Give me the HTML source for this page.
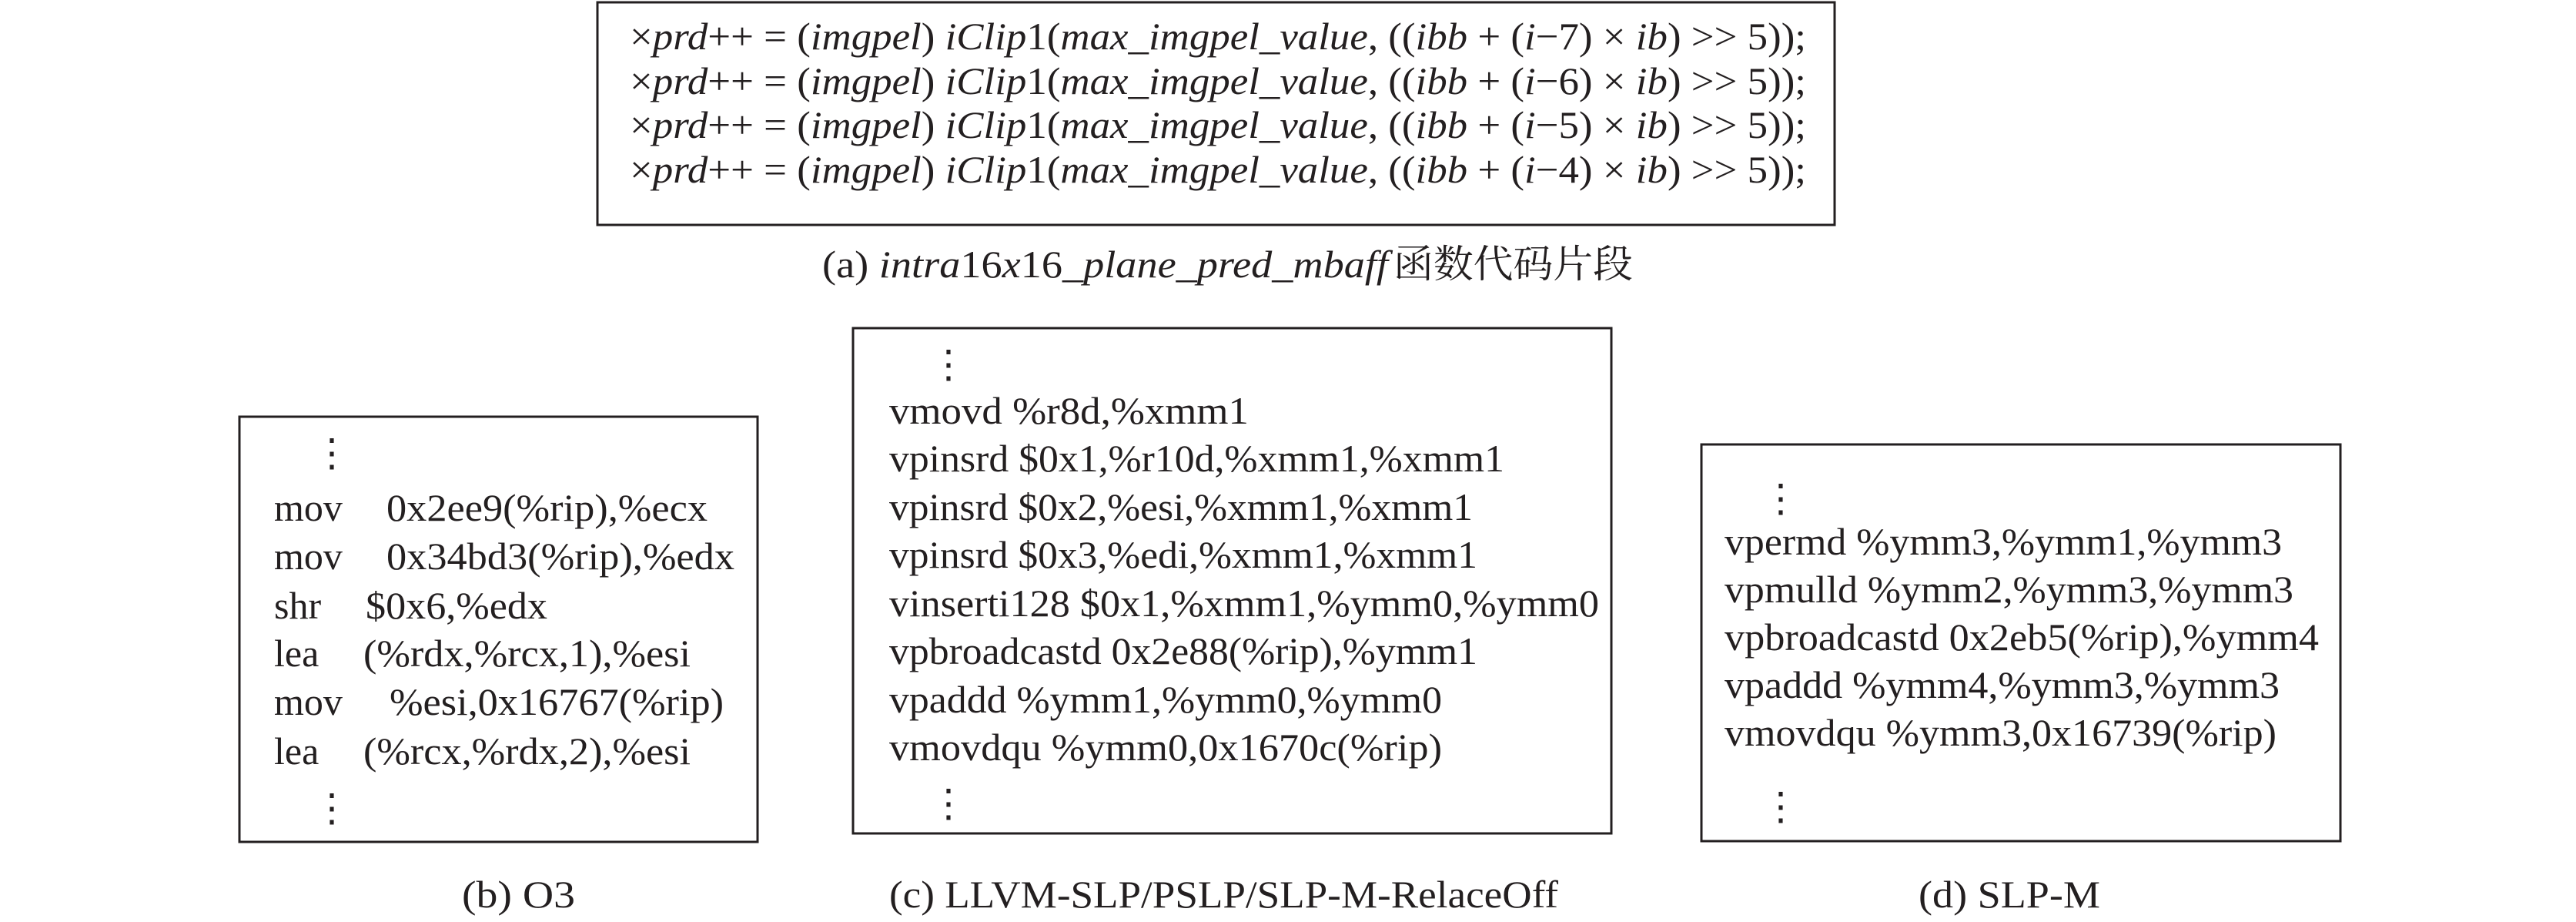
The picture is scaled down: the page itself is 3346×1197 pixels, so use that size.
<!DOCTYPE html>
<html><head><meta charset="utf-8"><style>
html,body{margin:0;padding:0;background:#fff;}
svg{display:block;}
text{font-family:"Liberation Serif","Noto Serif CJK SC",serif;fill:#231f20;}
.i{font-style:italic;}
</style></head><body>
<svg width="3346" height="1197" viewBox="0 0 3346 1197" xmlns="http://www.w3.org/2000/svg">
<g fill="none" stroke="#231f20" stroke-width="3">
<rect x="776" y="3" width="1607" height="289"/>
<rect x="311" y="541" width="673" height="552"/>
<rect x="1108" y="426" width="985" height="656"/>
<rect x="2210" y="577" width="830" height="515"/>
</g>
<g font-size="50">
<text x="818" y="64" textLength="1528" lengthAdjust="spacingAndGlyphs">×<tspan class="i">prd</tspan>++ = (<tspan class="i">imgpel</tspan>) <tspan class="i">iClip</tspan>1(<tspan class="i">max_imgpel_value</tspan>, ((<tspan class="i">ibb</tspan> + (<tspan class="i">i</tspan>−7) × <tspan class="i">ib</tspan>) &gt;&gt; 5));</text>
<text x="818" y="122" textLength="1528" lengthAdjust="spacingAndGlyphs">×<tspan class="i">prd</tspan>++ = (<tspan class="i">imgpel</tspan>) <tspan class="i">iClip</tspan>1(<tspan class="i">max_imgpel_value</tspan>, ((<tspan class="i">ibb</tspan> + (<tspan class="i">i</tspan>−6) × <tspan class="i">ib</tspan>) &gt;&gt; 5));</text>
<text x="818" y="179" textLength="1528" lengthAdjust="spacingAndGlyphs">×<tspan class="i">prd</tspan>++ = (<tspan class="i">imgpel</tspan>) <tspan class="i">iClip</tspan>1(<tspan class="i">max_imgpel_value</tspan>, ((<tspan class="i">ibb</tspan> + (<tspan class="i">i</tspan>−5) × <tspan class="i">ib</tspan>) &gt;&gt; 5));</text>
<text x="818" y="237" textLength="1528" lengthAdjust="spacingAndGlyphs">×<tspan class="i">prd</tspan>++ = (<tspan class="i">imgpel</tspan>) <tspan class="i">iClip</tspan>1(<tspan class="i">max_imgpel_value</tspan>, ((<tspan class="i">ibb</tspan> + (<tspan class="i">i</tspan>−4) × <tspan class="i">ib</tspan>) &gt;&gt; 5));</text>
<text x="1068" y="360" textLength="735" lengthAdjust="spacingAndGlyphs">(a)  <tspan class="i">intra</tspan>16<tspan class="i">x</tspan>16<tspan class="i">_plane_pred_mbaff</tspan></text>
<text x="1810" y="360" textLength="311" lengthAdjust="spacingAndGlyphs">函数代码片段</text>
</g>
<g font-size="50">
<!-- b -->
<text x="406" y="605">⋮</text>
<text x="356" y="676">mov</text><text x="502" y="676" textLength="417" lengthAdjust="spacingAndGlyphs">0x2ee9(%rip),%ecx</text>
<text x="356" y="739">mov</text><text x="502" y="739" textLength="452" lengthAdjust="spacingAndGlyphs">0x34bd3(%rip),%edx</text>
<text x="356" y="803">shr</text><text x="475" y="803" textLength="236" lengthAdjust="spacingAndGlyphs">$0x6,%edx</text>
<text x="356" y="865">lea</text><text x="472" y="865" textLength="425" lengthAdjust="spacingAndGlyphs">(%rdx,%rcx,1),%esi</text>
<text x="356" y="928">mov</text><text x="506" y="928" textLength="434" lengthAdjust="spacingAndGlyphs">%esi,0x16767(%rip)</text>
<text x="356" y="992">lea</text><text x="472" y="992" textLength="425" lengthAdjust="spacingAndGlyphs">(%rcx,%rdx,2),%esi</text>
<text x="406" y="1066">⋮</text>
<!-- c -->
<text x="1207" y="490">⋮</text>
<text x="1155" y="550" textLength="467" lengthAdjust="spacingAndGlyphs">vmovd  %r8d,%xmm1</text>
<text x="1155" y="612" textLength="799" lengthAdjust="spacingAndGlyphs">vpinsrd $0x1,%r10d,%xmm1,%xmm1</text>
<text x="1155" y="675" textLength="758" lengthAdjust="spacingAndGlyphs">vpinsrd $0x2,%esi,%xmm1,%xmm1</text>
<text x="1155" y="737" textLength="764" lengthAdjust="spacingAndGlyphs">vpinsrd $0x3,%edi,%xmm1,%xmm1</text>
<text x="1155" y="800" textLength="922" lengthAdjust="spacingAndGlyphs">vinserti128 $0x1,%xmm1,%ymm0,%ymm0</text>
<text x="1155" y="862" textLength="764" lengthAdjust="spacingAndGlyphs">vpbroadcastd 0x2e88(%rip),%ymm1</text>
<text x="1155" y="925" textLength="718" lengthAdjust="spacingAndGlyphs">vpaddd %ymm1,%ymm0,%ymm0</text>
<text x="1155" y="987" textLength="718" lengthAdjust="spacingAndGlyphs">vmovdqu %ymm0,0x1670c(%rip)</text>
<text x="1207" y="1060">⋮</text>
<!-- d -->
<text x="2288" y="664">⋮</text>
<text x="2240" y="720" textLength="724" lengthAdjust="spacingAndGlyphs">vpermd %ymm3,%ymm1,%ymm3</text>
<text x="2240" y="782" textLength="739" lengthAdjust="spacingAndGlyphs">vpmulld %ymm2,%ymm3,%ymm3</text>
<text x="2240" y="844" textLength="772" lengthAdjust="spacingAndGlyphs">vpbroadcastd 0x2eb5(%rip),%ymm4</text>
<text x="2240" y="906" textLength="721" lengthAdjust="spacingAndGlyphs">vpaddd %ymm4,%ymm3,%ymm3</text>
<text x="2240" y="968" textLength="717" lengthAdjust="spacingAndGlyphs">vmovdqu %ymm3,0x16739(%rip)</text>
<text x="2288" y="1064">⋮</text>
<!-- captions -->
<text x="600" y="1178" textLength="147" lengthAdjust="spacingAndGlyphs">(b)  O3</text>
<text x="1155" y="1178" textLength="869" lengthAdjust="spacingAndGlyphs">(c)  LLVM-SLP/PSLP/SLP-M-RelaceOff</text>
<text x="2492" y="1178" textLength="236" lengthAdjust="spacingAndGlyphs">(d)  SLP-M</text>
</g>
</svg>
</body></html>
